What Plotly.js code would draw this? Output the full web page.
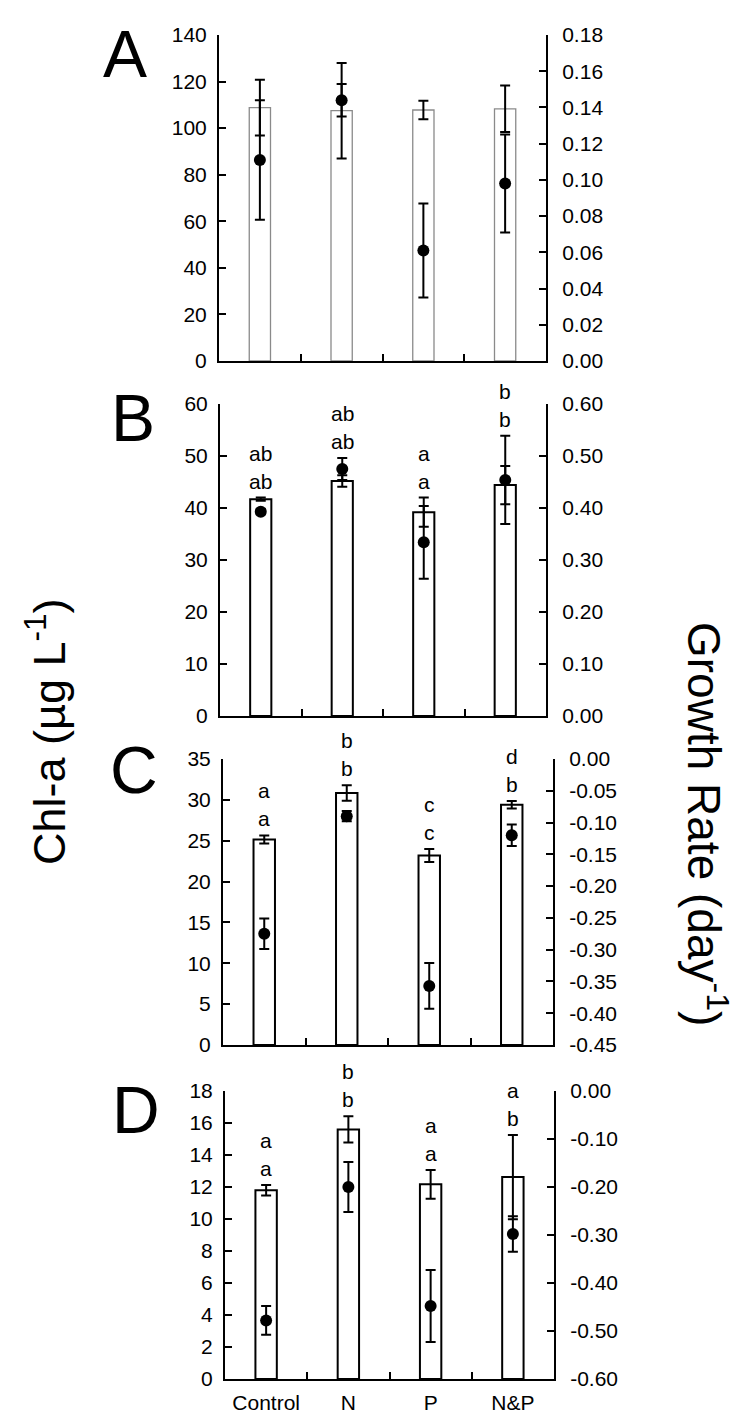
<!DOCTYPE html>
<html>
<head>
<meta charset="utf-8">
<script src="https://cdn.plot.ly/plotly-3.0.1.min.js"></script>
<style>html,body{margin:0;padding:0;background:#fff;}#chart{width:748px;height:1417px;}</style>
</head>
<body>
<div id="chart"></div>
<script>
// ---------------- data ----------------
const categories = ['Control', 'N', 'P', 'N&P'];

// Panel A
const chlA = [108.8, 107.5, 107.8, 108.3];
const chlA_err = [12.0, 20.5, 4.0, 10.0];
const growthA = [0.111, 0.144, 0.061, 0.098];
const growthA_err = [0.033, 0.009, 0.026, 0.027];

// Panel B
const chlB = [41.7, 45.2, 39.2, 44.4];
const chlB_err = [0.3, 1.1, 2.8, 3.7];
const growthB = [0.393, 0.475, 0.334, 0.454];
const growthB_err = [0.005, 0.021, 0.070, 0.085];
const lettersB_low = ['ab', 'ab', 'a', 'b'];
const lettersB_high = ['ab', 'ab', 'a', 'b'];

// Panel C
const chlC = [25.15, 30.85, 23.2, 29.4];
const chlC_err = [0.5, 0.95, 0.8, 0.47];
const growthC = [-0.275, -0.090, -0.357, -0.120];
const growthC_err = [0.024, 0.008, 0.036, 0.017];
const lettersC_low = ['a', 'b', 'c', 'b'];
const lettersC_high = ['a', 'b', 'c', 'd'];

// Panel D
const chlD = [11.8, 15.6, 12.17, 12.62];
const chlD_err = [0.33, 0.82, 0.9, 2.63];
const growthD = [-0.478, -0.200, -0.448, -0.298];
const growthD_err = [0.030, 0.052, 0.075, 0.037];
const lettersD_low = ['a', 'b', 'a', 'b'];
const lettersD_high = ['a', 'b', 'a', 'a'];

const panelLetters = ['A', 'B', 'C', 'D'];
const leftTitle = 'Chl-a (µg L<sup>-1</sup>)';
const rightTitle = 'Growth Rate (day<sup>-1</sup>)';

// ---------------- layout helpers ----------------
const W = 748, H = 1417;
const FONT = '"Liberation Sans", Arial, sans-serif';
const TICK = 21;
const fx = p => p / W;
const fy = p => 1 - p / H;

const panels = [
  {chl: chlA, chlErr: chlA_err, gr: growthA, grErr: growthA_err,
   lr: [0, 140], ldt: 20, rr: [0, 0.18], rdt: 0.02,
   low: null, high: null, box: [219, 546, 35, 361], barLine: '#8a8a8a', barLW: 1.3, lab: [125, 54]},
  {chl: chlB, chlErr: chlB_err, gr: growthB, grErr: growthB_err,
   lr: [0, 60], ldt: 10, rr: [0, 0.6], rdt: 0.1,
   low: lettersB_low, high: lettersB_high, box: [220, 546, 404, 716], barLine: '#000', barLW: 2, lab: [133, 418]},
  {chl: chlC, chlErr: chlC_err, gr: growthC, grErr: growthC_err,
   lr: [0, 35], ldt: 5, rr: [-0.45, 0], rdt: 0.05,
   low: lettersC_low, high: lettersC_high, box: [223, 553, 759, 1045], barLine: '#000', barLW: 2, lab: [134, 770]},
  {chl: chlD, chlErr: chlD_err, gr: growthD, grErr: growthD_err,
   lr: [0, 18], ldt: 2, rr: [-0.6, 0], rdt: 0.1,
   low: lettersD_low, high: lettersD_high, box: [225, 554, 1091, 1379], barLine: '#000', barLW: 2, lab: [136, 1110]}
];

const traces = [];
const layout = {
  width: W, height: H,
  margin: {l: 0, r: 0, t: 0, b: 0},
  paper_bgcolor: '#fff', plot_bgcolor: 'rgba(0,0,0,0)',
  showlegend: false,
  font: {family: FONT, size: TICK, color: '#000'},
  bargap: 0,
  annotations: []
};

panels.forEach((p, i) => {
  const xn = i === 0 ? 'x' : 'x' + (i + 1);
  const yl = 'y' + (2 * i + 1 === 1 ? '' : 2 * i + 1);
  const yr = 'y' + (2 * i + 2);
  const xKey = i === 0 ? 'xaxis' : 'xaxis' + (i + 1);
  const ylKey = 'yaxis' + (2 * i + 1 === 1 ? '' : 2 * i + 1);
  const yrKey = 'yaxis' + (2 * i + 2);
  const [x0, x1, y0, y1] = p.box;

  traces.push({
    type: 'bar', x: categories, y: p.chl, xaxis: xn, yaxis: yl, width: 0.26,
    marker: {color: '#fff', line: {color: p.barLine, width: p.barLW}},
    error_y: {type: 'data', array: p.chlErr, visible: true, color: '#000', thickness: 2, width: 5},
    hoverinfo: 'skip'
  });
  traces.push({
    type: 'scatter', mode: 'markers', x: categories, y: p.gr, xaxis: xn, yaxis: yr,
    marker: {color: '#000', size: 12},
    error_y: {type: 'data', array: p.grErr, visible: true, color: '#000', thickness: 2, width: 5},
    hoverinfo: 'skip'
  });

  layout[xKey] = {
    domain: [fx(x0), fx(x1)], anchor: yl, type: 'category',
    range: [-0.5, 3.5], fixedrange: true,
    showline: true, linecolor: '#000', linewidth: 2,
    ticks: 'inside', tickson: 'boundaries', ticklen: 7, tickwidth: 2, tickcolor: '#000',
    showgrid: false, zeroline: false,
    showticklabels: i === 3, ticklabelstandoff: 4,
    tickfont: {family: FONT, size: TICK, color: '#000'}
  };
  layout[ylKey] = {
    domain: [fy(y1), fy(y0)], anchor: xn, range: p.lr, dtick: p.ldt, tick0: 0,
    showline: true, linecolor: '#000', linewidth: 2,
    ticks: 'inside', ticklen: 7, tickwidth: 2, tickcolor: '#000',
    showgrid: false, zeroline: false, fixedrange: true,
    ticklabelstandoff: 6,
    tickfont: {family: FONT, size: TICK, color: '#000'}
  };
  const tv = [], tt = [];
  const n = Math.round((p.rr[1] - p.rr[0]) / p.rdt);
  for (let k = 0; k <= n; k++) {
    let v = p.rr[0] + k * p.rdt;
    if (Math.abs(v) < 1e-9) v = 0;
    tv.push(v);
    tt.push(v.toFixed(2));
  }
  layout[yrKey] = {
    domain: [fy(y1), fy(y0)], anchor: xn, overlaying: yl, side: 'right',
    range: p.rr, tickmode: 'array', tickvals: tv, ticktext: tt,
    showline: true, linecolor: '#000', linewidth: 2,
    ticks: 'inside', ticklen: 7, tickwidth: 2, tickcolor: '#000',
    showgrid: false, zeroline: false, fixedrange: true,
    ticklabelstandoff: 10,
    tickfont: {family: FONT, size: TICK, color: '#000'}
  };

  // panel letter
  layout.annotations.push({
    xref: 'paper', yref: 'paper', x: fx(p.lab[0]), y: fy(p.lab[1]),
    xanchor: 'center', yanchor: 'middle', showarrow: false,
    text: panelLetters[i], font: {family: FONT, size: 66, color: '#000'}
  });

  // significance letters
  if (p.low) {
    const toLeft = v => (v - p.rr[0]) / (p.rr[1] - p.rr[0]) * (p.lr[1] - p.lr[0]) + p.lr[0];
    categories.forEach((c, j) => {
      const top = Math.max(p.chl[j] + p.chlErr[j], toLeft(p.gr[j] + p.grErr[j]));
      layout.annotations.push({
        xref: xn, yref: yl, x: c, y: top, xanchor: 'center', yanchor: 'bottom',
        yshift: 3, showarrow: false, text: p.low[j],
        font: {family: FONT, size: TICK, color: '#000'}
      });
      layout.annotations.push({
        xref: xn, yref: yl, x: c, y: top, xanchor: 'center', yanchor: 'bottom',
        yshift: 31, showarrow: false, text: p.high[j],
        font: {family: FONT, size: TICK, color: '#000'}
      });
    });
  }
});

// axis titles
layout.annotations.push({
  xref: 'paper', yref: 'paper', x: fx(46), y: fy(732), xanchor: 'center', yanchor: 'middle',
  showarrow: false, textangle: -90, text: leftTitle,
  font: {family: FONT, size: 45, color: '#000'}
});
layout.annotations.push({
  xref: 'paper', yref: 'paper', x: fx(707), y: fy(824), xanchor: 'center', yanchor: 'middle',
  showarrow: false, textangle: 90, text: rightTitle,
  font: {family: FONT, size: 46, color: '#000'}
});

Plotly.newPlot('chart', traces, layout, {staticPlot: true, displayModeBar: false});
</script>
</body>
</html>
